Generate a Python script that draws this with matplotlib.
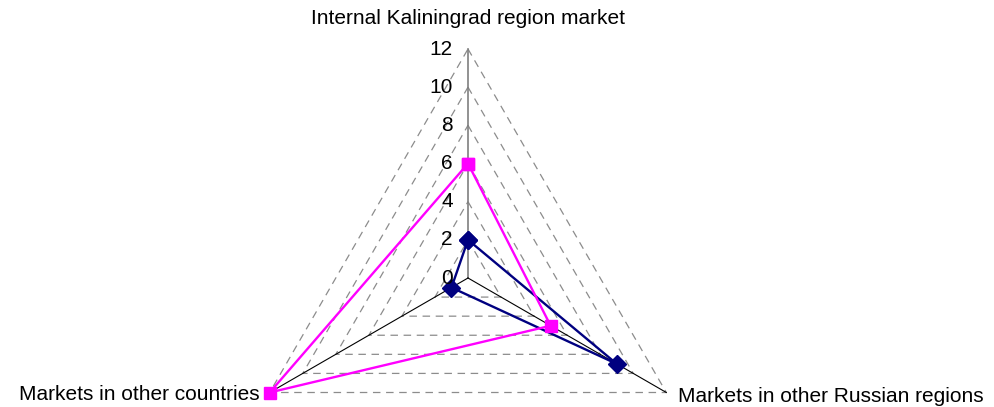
import numpy as np
import matplotlib.pyplot as plt
from matplotlib.transforms import offset_copy

plt.rcParams['font.family'] = ['Liberation Sans', 'DejaVu Sans']

# datos
categorias = ['Internal Kaliningrad region market',
              'Markets in other Russian regions',
              'Markets in other countries']
serie_azul = [2, 9, 1]
serie_rosa = [6, 5, 12]
niveles = [0, 2, 4, 6, 8, 10, 12]

fig = plt.figure(figsize=(9.95, 4.07), dpi=100)
# eje polar centrado en (468, 278) px, radio 229 px
cx, cy, R = 468, 407 - 278, 229
ax = fig.add_axes([(cx - R) / 995, (cy - R) / 407, 2 * R / 995, 2 * R / 407],
                  projection='polar')
ax.set_theta_zero_location('N')
ax.set_theta_direction(-1)
ax.set_ylim(0, 12)
ax.set_axis_off()

ang = np.arange(3) * 2 * np.pi / 3
ang_c = np.append(ang, ang[0])

# rejilla triangular punteada
for n in niveles[1:]:
    ax.plot(ang_c, [n] * 4, color='#8c8c8c', lw=0.9, ls=(0, (6, 4.5)),
            clip_on=False, zorder=1)

# ejes
ax.plot([0, 0], [0, 12], color='#7f7f7f', lw=1.2, clip_on=False, zorder=2)
for a in ang[1:]:
    ax.plot([a, a], [0, 12], color='black', lw=0.8, clip_on=False, zorder=2)

# series
ax.plot(ang_c, serie_azul + [serie_azul[0]], color='#000080', lw=1.7,
        marker='D', ms=9, clip_on=False, zorder=3)
ax.plot(ang_c, serie_rosa + [serie_rosa[0]], color='#ff00ff', lw=1.7,
        marker='s', ms=8.5, clip_on=False, zorder=4)

# etiquetas de escala
tr = offset_copy(ax.transData, fig=fig, x=-15, y=0, units='dots')
for n in niveles:
    ax.text(0, n, str(n), transform=tr, ha='right', va='center', fontsize=15)

# etiquetas de categorias
offs = [(0, 31, 'center'), (12, -4, 'left'), (-10, -2, 'right')]
for a, txt, (dx, dy, ha) in zip(ang, categorias, offs):
    t = offset_copy(ax.transData, fig=fig, x=dx, y=dy, units='dots')
    ax.text(a, 12, txt, transform=t, ha=ha, va='center', fontsize=15)

plt.savefig('out.png', dpi=100)
